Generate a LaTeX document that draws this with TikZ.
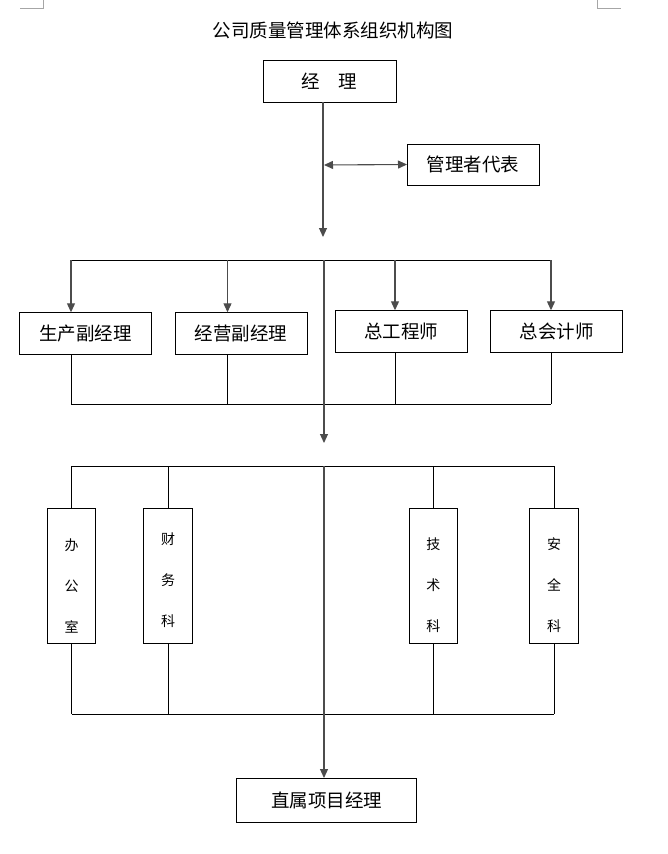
\documentclass[tikz,border=0pt]{standalone}
\usepackage{fontspec}
\newfontfamily\cjk{Noto Sans CJK SC}
\usetikzlibrary{arrows.meta}
\begin{document}
\begin{tikzpicture}[x=1pt,y=-1pt,
  every node/.style={inner sep=0pt,outer sep=0pt},
  hbox/.style={draw=black,line width=0.9pt,minimum width=132pt,minimum height=42pt,font=\cjk\fontsize{18.5}{20}\selectfont},
  vbox/.style={draw=black,line width=0.9pt,minimum width=48.5pt,minimum height=135pt},
  vtext/.style={font=\cjk\fontsize{14}{41}\selectfont,align=center},
  conn/.style={draw=black,line width=0.8pt},
  arr/.style={draw=black!70,line width=1.1pt,-{Triangle[length=9pt,width=8pt]}},
  arrtwo/.style={draw=black!70,line width=1.1pt,{Triangle[length=9pt,width=8pt]}-{Triangle[length=9pt,width=8pt]}},
  crop/.style={draw=black!35,line width=0.8pt}]
\useasboundingbox (0,0) rectangle (667,854);
% crop marks
\coordinate (cl1) at (20,8); \coordinate (cl2) at (43,8); \coordinate (cl3) at (43,0);
\coordinate (cr1) at (597,0); \coordinate (cr2) at (597,8); \coordinate (cr3) at (621,8);
\draw[crop] (cl1) -- (cl2) -- (cl3);
\draw[crop] (cr1) -- (cr2) -- (cr3);
% title
\node[font=\cjk\fontsize{18.5}{20}\selectfont] (title) at (333,30) {公司质量管理体系组织机构图};
% boxes
\node[hbox,minimum width=133pt] (mgr) at (329.5,81) {经\hspace{1em}理};
\node[hbox,minimum height=41pt] (rep) at (473,164.5) {管理者代表};
\node[hbox] (b1) at (85.5,333.3) {生产副经理};
\node[hbox] (b2) at (241,333.3) {经营副经理};
\node[hbox] (b3) at (401,331.3) {总工程师};
\node[hbox] (b4) at (556.7,331.3) {总会计师};
\node[vbox] (d1) at (71.5,575.8) {};
\node[vbox] (d2) at (168,575.8) {};
\node[vbox] (d3) at (433.3,575.8) {};
\node[vbox] (d4) at (554,575.8) {};
\node[vtext] (t1) at ([yshift=-10pt]d1.center) {办\\公\\室};
\node[vtext] (t2) at ([yshift=-4pt]d2.center) {财\\务\\科};
\node[vtext] (t3) at ([yshift=-9pt]d3.center) {技\\术\\科};
\node[vtext] (t4) at ([yshift=-9pt]d4.center) {安\\全\\科};
\node[hbox,minimum width=180pt,minimum height=44pt] (pm) at (326.7,800) {直属项目经理};
% coordinates
\coordinate (m0) at (323,102);
\coordinate (m1) at (323,165);
\coordinate (m2) at (323,237);
\coordinate (u1) at (71,260); \coordinate (u2) at (227.5,260);
\coordinate (uc) at (324,260);
\coordinate (u3) at (395,260); \coordinate (u4) at (551,260);
\coordinate (l1) at (71,404); \coordinate (l2) at (227.5,404);
\coordinate (l3) at (395,404); \coordinate (l4) at (551,404);
\coordinate (m3) at (324,443);
\coordinate (v1) at (71.5,466); \coordinate (v2) at (168,466);
\coordinate (vc) at (324,466);
\coordinate (v3) at (433.3,466); \coordinate (v4) at (554,466);
\coordinate (w1) at (71.5,714); \coordinate (w2) at (168,714);
\coordinate (w3) at (433.3,714); \coordinate (w4) at (554,714);
% manager connectors
\draw[arr] (mgr.south -| m0) -- (m2);
\draw[arrtwo] ([xshift=1pt]m1) -- (rep.west);
% row 2
\draw[conn] (u1) -- (u4);
\draw[arr] (u1) -- (b1.north -| u1);
\draw[arr] (u2) -- (b2.north -| u2);
\draw[arr] (u3) -- (b3.north -| u3);
\draw[arr] (u4) -- (b4.north -| u4);
\draw[conn] (b1.south -| l1) -- (l1);
\draw[conn] (b2.south -| l2) -- (l2);
\draw[conn] (b3.south -| l3) -- (l3);
\draw[conn] (b4.south -| l4) -- (l4);
\draw[conn] (l1) -- (l4);
\draw[arr] (uc) -- (m3);
% row 3
\draw[conn] (v1) -- (v4);
\draw[conn] (v1) -- (d1.north);
\draw[conn] (v2) -- (d2.north);
\draw[conn] (v3) -- (d3.north);
\draw[conn] (v4) -- (d4.north);
\draw[conn] (d1.south) -- (w1);
\draw[conn] (d2.south) -- (w2);
\draw[conn] (d3.south) -- (w3);
\draw[conn] (d4.south) -- (w4);
\draw[conn] (w1) -- (w4);
\draw[arr] (vc) -- (pm.north -| vc);
\end{tikzpicture}
\end{document}
